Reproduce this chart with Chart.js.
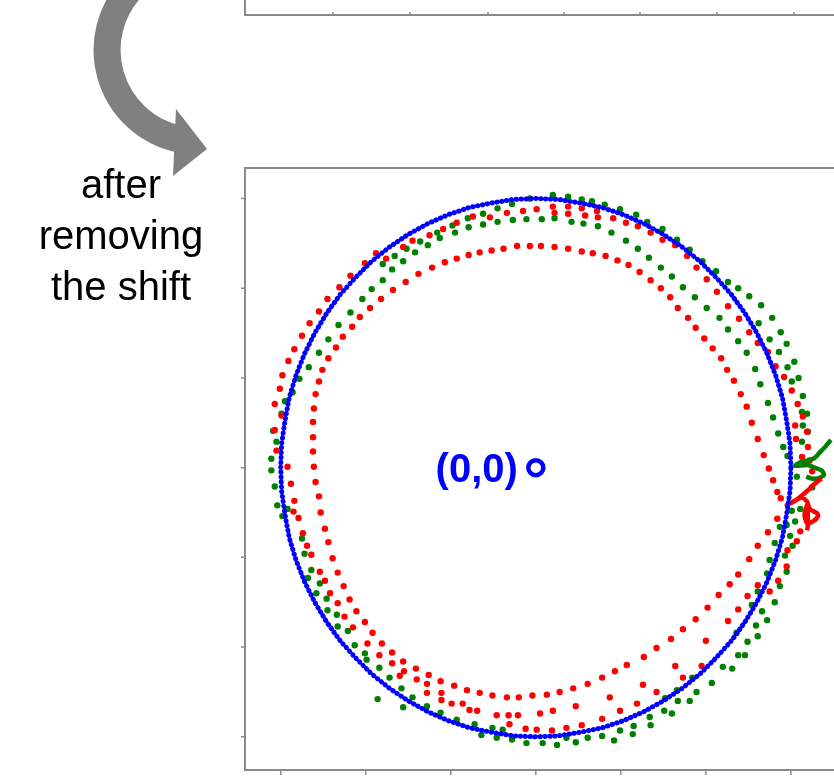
<!DOCTYPE html>
<html>
<head>
<meta charset="utf-8">
<script src="https://cdn.jsdelivr.net/npm/chart.js@4.4.1/dist/chart.umd.min.js"></script>
<style>
  html, body { margin: 0; padding: 0; background: #fff; overflow: hidden; width: 834px; height: 782px; }
  #wrap { position: relative; width: 834px; height: 782px; overflow: hidden; }
  #deco, #plot { position: absolute; left: 0; top: 0; }
  #caption {
    position: absolute; left: 0; top: 159px; width: 242px; text-align: center;
    font: 40px/51px "Liberation Sans", Arial, sans-serif; color: #000;
  }
</style>
</head>
<body>
<div id="wrap">
  <svg id="deco" width="834" height="782">
    <!-- curved arrow from the upper panel to the lower one -->
    <path d="M133.7,-14.3 A91,91 0 0 0 179.1,139.0" fill="none" stroke="#808080" stroke-width="27"/>
    <polygon points="176,109 207,149 173,176" fill="#808080"/>
    <!-- lower-left corner of the panel above -->
    <path d="M245,0 V15 H834" fill="none" stroke="#8a8a8a" stroke-width="2"/>
    <path d="M333,15 V12 M410,15 V12 M488,15 V12 M564,15 V12 M640,15 V12 M717,15 V12 M794,15 V12" stroke="#8a8a8a" stroke-width="1.5"/>
  </svg>
  <canvas id="plot" width="900" height="782"></canvas>
  <div id="caption">after<br>removing<br>the shift</div>
</div>
<script>
// reference circle of radius 3 (every 5 degrees, closed)
const blueCircle = [[3.00,0.00],[2.99,0.26],[2.95,0.52],[2.90,0.78],[2.82,1.03],[2.72,1.27],[2.60,1.50],[2.46,1.72],[2.30,1.93],[2.12,2.12],[1.93,2.30],[1.72,2.46],[1.50,2.60],[1.27,2.72],[1.03,2.82],[0.78,2.90],[0.52,2.95],[0.26,2.99],[0.00,3.00],[-0.26,2.99],[-0.52,2.95],[-0.78,2.90],[-1.03,2.82],[-1.27,2.72],[-1.50,2.60],[-1.72,2.46],[-1.93,2.30],[-2.12,2.12],[-2.30,1.93],[-2.46,1.72],[-2.60,1.50],[-2.72,1.27],[-2.82,1.03],[-2.90,0.78],[-2.95,0.52],[-2.99,0.26],[-3.00,0.00],[-2.99,-0.26],[-2.95,-0.52],[-2.90,-0.78],[-2.82,-1.03],[-2.72,-1.27],[-2.60,-1.50],[-2.46,-1.72],[-2.30,-1.93],[-2.12,-2.12],[-1.93,-2.30],[-1.72,-2.46],[-1.50,-2.60],[-1.27,-2.72],[-1.03,-2.82],[-0.78,-2.90],[-0.52,-2.95],[-0.26,-2.99],[0.00,-3.00],[0.26,-2.99],[0.52,-2.95],[0.78,-2.90],[1.03,-2.82],[1.27,-2.72],[1.50,-2.60],[1.72,-2.46],[1.93,-2.30],[2.12,-2.12],[2.30,-1.93],[2.46,-1.72],[2.60,-1.50],[2.72,-1.27],[2.82,-1.03],[2.90,-0.78],[2.95,-0.52],[2.99,-0.26],[3.00,0.00]];

// red samples: inner loop
const redInner = [[-0.22,2.47],[-0.07,2.47],[0.06,2.47],[0.22,2.46],[0.38,2.44],[0.54,2.41],[0.67,2.39],[0.82,2.36],[0.96,2.31],[1.09,2.26],[1.22,2.18],[1.35,2.09],[1.47,2.00],[1.58,1.90],[1.67,1.78],[1.79,1.67],[1.88,1.56],[1.98,1.44],[2.08,1.33],[2.18,1.22],[2.25,1.09],[2.33,0.97],[2.41,0.82],[2.48,0.68],[2.54,0.50],[2.61,0.32],[2.68,0.14],[2.74,-0.01],[2.79,-0.14],[2.84,-0.27],[2.88,-0.34],[2.84,-0.57],[2.73,-0.72],[2.61,-0.87],[2.51,-1.02],[2.38,-1.19],[2.28,-1.30],[2.15,-1.42],[2.02,-1.56],[1.88,-1.69],[1.73,-1.80],[1.59,-1.91],[1.42,-2.01],[1.27,-2.11],[1.07,-2.20],[0.93,-2.27],[0.78,-2.34],[0.61,-2.41],[0.44,-2.46],[0.28,-2.50],[0.13,-2.53],[-0.04,-2.54],[-0.20,-2.56],[-0.34,-2.56],[-0.51,-2.54],[-0.66,-2.51],[-0.81,-2.48],[-0.96,-2.43],[-1.12,-2.38],[-1.26,-2.31],[-1.41,-2.24],[-1.56,-2.16],[-1.69,-2.06],[-1.81,-1.96],[-1.92,-1.84],[-2.01,-1.72],[-2.11,-1.60],[-2.19,-1.47],[-2.26,-1.32],[-2.33,-1.17],[-2.39,-1.01],[-2.44,-0.83],[-2.48,-0.68],[-2.53,-0.50],[-2.55,-0.32],[-2.59,-0.16],[-2.61,0.01],[-2.62,0.18],[-2.62,0.34],[-2.62,0.51],[-2.61,0.66],[-2.59,0.82],[-2.55,0.96],[-2.51,1.09],[-2.44,1.22],[-2.35,1.34],[-2.27,1.46],[-2.16,1.57],[-2.07,1.68],[-1.95,1.78],[-1.82,1.88],[-1.68,1.98],[-1.53,2.07],[-1.38,2.16],[-1.22,2.23],[-1.07,2.29],[-0.93,2.33],[-0.79,2.37],[-0.66,2.40],[-0.52,2.42],[-0.38,2.44]];

// red samples: outer loops near the reference circle
const redOuter = [[-3.07,0.71],[-3.01,0.88],[-2.98,1.03],[-2.91,1.19],[-2.84,1.32],[-2.75,1.47],[-2.66,1.61],[-2.55,1.74],[-2.45,1.88],[-2.31,2.01],[-2.18,2.14],[-2.01,2.28],[-1.88,2.39],[-1.76,2.33],[-1.56,2.46],[-1.45,2.53],[-1.25,2.59],[-1.09,2.66],[-0.93,2.73],[-0.74,2.80],[-0.54,2.79],[-0.34,2.84],[-0.15,2.86],[0.01,2.88],[0.20,2.91],[0.38,2.91],[0.54,2.89],[0.72,2.86],[0.22,2.84],[0.38,2.83],[0.58,2.81],[0.73,2.79],[0.91,2.78],[1.06,2.73],[1.20,2.69],[1.35,2.62],[1.49,2.54],[1.64,2.48],[1.78,2.36],[1.89,2.23],[2.01,2.10],[2.13,1.96],[2.26,1.80],[2.39,1.66],[2.51,1.51],[2.61,1.39],[2.73,1.29],[2.82,1.13],[2.92,1.01],[3.01,0.86],[3.08,0.71],[3.14,0.57],[3.05,0.47],[3.19,0.40],[3.06,0.32],[3.20,0.23],[3.13,0.12],[3.22,0.08],[3.25,-0.04],[3.11,-0.71],[3.07,-0.82],[2.96,-0.92],[2.95,-1.10],[2.85,-1.26],[2.75,-1.38],[2.61,-1.31],[2.49,-1.43],[2.38,-1.58],[2.26,-1.71],[2.00,-1.93],[1.95,-2.21],[1.73,-2.34],[1.64,-2.21],[1.42,-2.50],[1.26,-2.42],[1.19,-2.63],[0.99,-2.71],[0.87,-2.56],[0.78,-2.80],[0.54,-2.87],[0.47,-2.66],[0.36,-2.90],[0.20,-2.71],[0.19,-2.93],[0.05,-2.74],[0.01,-2.92],[-0.12,-2.91],[-0.21,-2.76],[-0.31,-2.86],[-0.32,-2.76],[-0.46,-2.76],[-0.69,-2.71],[-0.78,-2.70],[-0.86,-2.63],[-0.99,-2.63],[-1.11,-2.51],[-1.11,-2.59],[-1.28,-2.51],[-1.28,-2.41],[-1.40,-2.36],[-1.60,-2.32],[-1.55,-2.27],[-1.69,-2.18],[-1.84,-2.09],[-1.98,-1.96],[-2.15,-1.78],[-2.25,-1.66],[-2.33,-1.51],[-2.42,-1.40],[-2.48,-1.26],[-2.54,-1.16],[-2.64,-0.97],[-2.69,-0.87],[-2.74,-0.73],[-2.79,-0.56],[-2.85,-0.49],[-2.84,-0.37],[-2.88,-0.18],[-2.92,0.01],[-3.05,0.19],[-3.07,0.42],[-2.99,0.58]];

// green samples
const greenPts = [[0.07,2.77],[-0.11,2.77],[-0.27,2.76],[-0.45,2.74],[-0.62,2.71],[-0.79,2.68],[-0.95,2.62],[-1.13,2.56],[-1.27,2.48],[-1.42,2.40],[-1.56,2.30],[-1.69,2.21],[-1.80,2.09],[-1.93,1.99],[-2.04,1.88],[-2.18,1.73],[-2.32,1.59],[-2.44,1.43],[-2.55,1.28],[-2.67,1.12],[-2.78,0.99],[-2.86,0.84],[-2.95,0.74],
[-1.80,2.27],[-1.66,2.36],[-1.52,2.44],[-1.36,2.52],[-1.16,2.62],[-0.98,2.70],[-0.80,2.78],[-0.62,2.83],[-0.45,2.89],[-0.28,2.94],[-0.07,3.00],[0.20,3.04],[0.38,3.02],[0.54,2.99],[0.66,2.97],[0.81,2.93],[0.99,2.88],[1.18,2.82],[1.31,2.74],[1.49,2.66],[1.66,2.54],[1.81,2.43],[1.96,2.30],[2.12,2.19],[2.26,2.07],[2.38,2.00],[2.51,1.91],[2.65,1.81],[2.78,1.67],[2.88,1.51],[2.95,1.38],[3.04,1.18],[3.09,1.00],[3.14,0.80],
[2.62,1.61],[2.75,1.43],[2.86,1.29],[2.96,1.12],[3.01,0.96],
[0.22,2.78],[0.42,2.74],[0.56,2.72],[0.73,2.69],[0.89,2.62],[1.06,2.53],[1.20,2.44],[1.33,2.34],[1.47,2.23],[1.60,2.13],[1.73,2.01],[1.87,1.90],[2.01,1.78],[2.16,1.67],[2.26,1.54],[2.38,1.41],[2.48,1.28],[2.58,1.10],[2.64,0.93],[2.73,0.72],[2.79,0.56],[2.85,0.38],[2.91,0.23],[2.96,0.13],
[3.13,0.62],[3.19,0.60],[3.14,0.47],[3.20,0.40],[3.13,0.29],[3.07,-0.10],[3.25,-0.22],[3.11,-0.46],[3.01,-0.48],[3.05,-0.60],[2.95,-0.64],[2.87,-0.66],[2.99,-0.76],[2.81,-0.84],[3.02,-0.87],[2.93,-0.98],[2.75,-1.03],[2.95,-1.16],[2.72,-1.18],[2.87,-1.32],[2.61,-1.38],
[2.81,-1.50],[2.54,-1.53],[2.66,-1.60],[2.72,-1.70],[2.59,-1.76],[2.61,-1.88],[2.36,-1.84],[2.49,-1.94],[2.46,-2.09],[2.38,-2.09],[2.31,-2.24],[2.20,-2.22],[2.07,-2.40],[1.84,-2.34],[1.89,-2.50],[1.81,-2.60],[1.67,-2.60],[1.66,-2.48],[1.52,-2.57],[1.60,-2.74],[1.51,-2.71],[1.34,-2.78],[1.35,-2.87],[1.15,-2.88],[1.14,-2.97],[0.99,-2.93],[0.92,-3.04],[0.78,-2.99],[0.61,-3.01],[0.47,-3.06],[0.36,-3.01],[0.25,-3.09],[0.08,-3.07],[-0.11,-3.07],[-0.28,-3.03],[-0.39,-2.92],[-0.46,-3.01],[-0.51,-2.90],[-0.64,-2.98],[-0.72,-2.86],[-0.93,-2.81],[-1.12,-2.73],[-1.28,-2.66],[-1.45,-2.56],[-1.56,-2.67],[-1.58,-2.46],[-1.72,-2.34],[-1.86,-2.58],[-1.84,-2.23],[-1.99,-2.14],[-2.01,-2.07],[-2.13,-1.98],[-2.21,-1.82],[-2.33,-1.77],[-2.34,-1.64],[-2.45,-1.59],[-2.46,-1.46],[-2.58,-1.40],[-2.54,-1.29],[-2.68,-1.23],
[-2.64,-1.14],[-2.72,-0.96],[-2.75,-0.79],[-2.92,-0.46],[-2.98,-0.54],[-3.04,-0.42],[-3.07,-0.21],[-3.11,-0.03],[-3.11,0.10],[-3.05,0.29],[-3.09,0.41],[-2.99,0.60]];

// dense end-of-record traces on the right
const redTrace = [[3.36,-0.12],[3.28,-0.18],[3.19,-0.26],[3.13,-0.31],[3.05,-0.37],[2.95,-0.42],[3.13,-0.33],[3.19,-0.38],[3.22,-0.46],[3.31,-0.51],[3.32,-0.54],[3.26,-0.60],[3.19,-0.62],[3.16,-0.53],[3.19,-0.42],[3.20,-0.64],[3.19,-0.70]];
const greenTrace = [[3.47,0.31],[3.41,0.24],[3.34,0.17],[3.28,0.11],[3.20,0.08],[3.11,0.06],[3.05,0.02],[3.20,0.03],[3.28,0.00],[3.36,-0.03],[3.39,-0.08],[3.32,-0.12],[3.24,-0.12],[3.18,-0.10]];

const origin = [[0, 0]];
const originLabel = '(0,0)';
const axisTicks = [-3, -2, -1, 0, 1, 2, 3];

const toXY = arr => arr.map(([x, y]) => ({ x, y }));

const BLUE = '#0000ff', RED = '#ff0000', GREEN = '#008000';

const framePlugin = {
  id: 'frame',
  afterDraw(chart) {
    const { ctx, chartArea: a, scales: { x, y } } = chart;
    ctx.save();
    ctx.strokeStyle = '#8a8a8a';
    ctx.lineWidth = 2;
    ctx.strokeRect(a.left, a.top, a.right - a.left, a.bottom - a.top);
    ctx.lineWidth = 1.5;
    ctx.beginPath();
    for (const v of axisTicks) {
      const px = x.getPixelForValue(v);
      ctx.moveTo(px, a.bottom); ctx.lineTo(px, a.bottom + 5);
      const py = y.getPixelForValue(v);
      ctx.moveTo(a.left, py); ctx.lineTo(a.left - 4, py);
    }
    ctx.stroke();
    const ox = x.getPixelForValue(origin[0][0]);
    const oy = y.getPixelForValue(origin[0][1]);
    ctx.fillStyle = BLUE;
    ctx.font = 'bold 40px "Liberation Sans", Arial, sans-serif';
    ctx.textAlign = 'right';
    ctx.textBaseline = 'middle';
    ctx.fillText(originLabel, ox - 18, oy + 3);
    ctx.restore();
  }
};

new Chart(document.getElementById('plot'), {
  type: 'scatter',
  data: {
    datasets: [
      { label: 'circle', data: toXY(blueCircle), showLine: true, borderColor: BLUE, borderWidth: 5,
        borderDash: [0.3, 4.6], borderCapStyle: 'round', pointRadius: 0, order: 0 },
      { label: 'origin', data: toXY(origin), pointRadius: 7.5, borderWidth: 4.5, borderColor: BLUE,
        backgroundColor: 'rgba(0,0,0,0)', order: 0 },
      { label: 'red trace', data: toXY(redTrace), showLine: true, borderColor: RED, borderWidth: 4.5,
        pointRadius: 0, tension: 0.2, order: 1 },
      { label: 'green trace', data: toXY(greenTrace), showLine: true, borderColor: GREEN, borderWidth: 4.5,
        pointRadius: 0, tension: 0.2, order: 1 },
      { label: 'red inner', data: toXY(redInner), pointRadius: 3.2, borderWidth: 0, backgroundColor: RED, order: 2 },
      { label: 'red outer', data: toXY(redOuter), pointRadius: 3.2, borderWidth: 0, backgroundColor: RED, order: 2 },
      { label: 'green', data: toXY(greenPts), pointRadius: 3.2, borderWidth: 0, backgroundColor: GREEN, order: 3 }
    ]
  },
  options: {
    responsive: false,
    animation: false,
    events: [],
    layout: { padding: { left: 245, top: 168, right: 30, bottom: 10 } },
    scales: {
      x: { type: 'linear', min: -3.42, max: 3.93, display: false },
      y: { type: 'linear', min: -3.37, max: 3.34, display: false }
    },
    plugins: { legend: { display: false }, tooltip: { enabled: false } }
  },
  plugins: [framePlugin]
});
</script>
</body>
</html>
